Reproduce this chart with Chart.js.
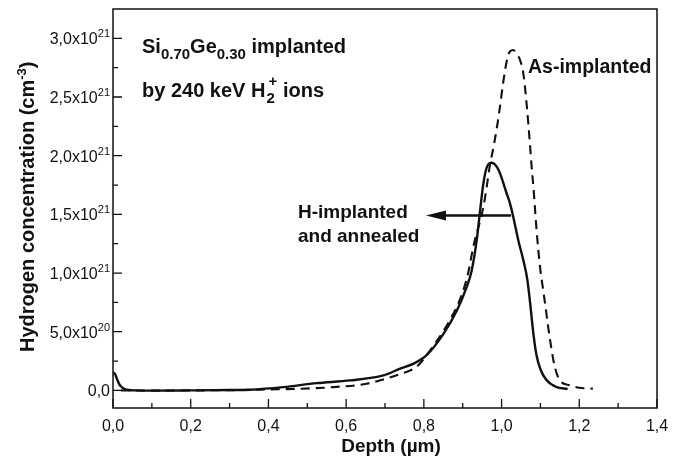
<!DOCTYPE html>
<html>
<head>
<meta charset="utf-8">
<script src="https://cdn.jsdelivr.net/npm/chart.js@4.4.1/dist/chart.umd.min.js"></script>
<style>
  html, body { margin: 0; padding: 0; background: #fff; }
  #wrap { width: 681px; height: 459px; position: relative; }
</style>
</head>
<body>
<div id="wrap"><canvas id="chart"></canvas></div>
<script>
// Profils d'hydrogène (concentration en unités de 1e21 cm^-3)
const annealedDepth = [0, 0.005, 0.01, 0.015, 0.02, 0.03, 0.04, 0.06, 0.1, 0.2, 0.3, 0.353, 0.438, 0.524, 0.61, 0.696, 0.739, 0.775, 0.807, 0.85, 0.885, 0.91, 0.923, 0.936, 0.944, 0.953, 0.962, 0.975, 0.992, 1.013, 1.022, 1.03, 1.043, 1.056, 1.066, 1.073, 1.082, 1.09, 1.1, 1.115, 1.14, 1.17];
const annealedConc = [0.155, 0.14, 0.1, 0.06, 0.035, 0.012, 0.003, 0, -0.002, 0, 0.003, 0.006, 0.028, 0.062, 0.085, 0.128, 0.185, 0.23, 0.3, 0.48, 0.68, 0.88, 1.02, 1.28, 1.51, 1.76, 1.9, 1.94, 1.88, 1.68, 1.59, 1.48, 1.28, 1.11, 0.95, 0.76, 0.48, 0.3, 0.18, 0.09, 0.03, 0.012];

const asImplDepth = [0.02, 0.1, 0.2, 0.3, 0.4, 0.481, 0.567, 0.653, 0.739, 0.781, 0.8, 0.867, 0.897, 0.914, 0.927, 0.953, 0.962, 0.97, 0.979, 0.987, 0.996, 1.004, 1.013, 1.022, 1.03, 1.04, 1.047, 1.056, 1.065, 1.073, 1.077, 1.082, 1.09, 1.099, 1.106, 1.112, 1.12, 1.129, 1.137, 1.15, 1.176, 1.2, 1.235];
const asImplConc = [0, -0.002, 0, 0.002, 0.008, 0.014, 0.028, 0.057, 0.14, 0.2, 0.27, 0.6, 0.81, 1.0, 1.22, 1.56, 1.74, 1.92, 2.07, 2.22, 2.42, 2.62, 2.8, 2.89, 2.9, 2.86, 2.82, 2.7, 2.42, 2.1, 1.92, 1.73, 1.37, 1.05, 0.88, 0.74, 0.54, 0.34, 0.2, 0.085, 0.043, 0.023, 0.015];

// Graduations
const xMajor = [0, 0.2, 0.4, 0.6, 0.8, 1.0, 1.2, 1.4];
const xMinor = [0.1, 0.3, 0.5, 0.7, 0.9, 1.1, 1.3];
const xTickLabels = ['0,0', '0,2', '0,4', '0,6', '0,8', '1,0', '1,2', '1,4'];
const yMajor = [0, 0.5, 1.0, 1.5, 2.0, 2.5, 3.0];
const yMinor = [0.25, 0.75, 1.25, 1.75, 2.25, 2.75];
const yTickLabels = ['0,0', '5,0x10', '1,0x10', '1,5x10', '2,0x10', '2,5x10', '3,0x10'];
const yTickExp = ['', '20', '21', '21', '21', '21', '21'];

const FONT = '"Liberation Sans", Arial, sans-serif';
const INK = '#111';

function toPoints(xs, ys) {
    return xs.map((x, i) => ({ x: x, y: ys[i] }));
}

// écrit une suite de morceaux (texte normal / indice / exposant)
function drawRich(ctx, parts, x, y, base) {
    parts.forEach(p => {
        const size = p.size || base || 19;
        ctx.font = 'bold ' + size + 'px ' + FONT;
        ctx.fillText(p.t, x, y + (p.dy || 0));
        x += ctx.measureText(p.t).width;
    });
    return x;
}

const framePlugin = {
    id: 'frame',
    afterDatasetsDraw(chart) {
        const { ctx, chartArea: a, scales: { x, y } } = chart;
        ctx.save();
        ctx.strokeStyle = INK;
        ctx.fillStyle = INK;

        // cadre
        ctx.lineWidth = 1.5;
        ctx.strokeRect(a.left, a.top, a.right - a.left, a.bottom - a.top);

        // graduations vers l'intérieur
        ctx.lineWidth = 1.3;
        ctx.beginPath();
        xMajor.forEach(v => { const px = x.getPixelForValue(v); ctx.moveTo(px, a.bottom); ctx.lineTo(px, a.bottom - 9); });
        xMinor.forEach(v => { const px = x.getPixelForValue(v); ctx.moveTo(px, a.bottom); ctx.lineTo(px, a.bottom - 5); });
        yMajor.forEach(v => { const py = y.getPixelForValue(v); ctx.moveTo(a.left, py); ctx.lineTo(a.left + 9, py); });
        yMinor.forEach(v => { const py = y.getPixelForValue(v); ctx.moveTo(a.left, py); ctx.lineTo(a.left + 5, py); });
        ctx.stroke();

        // étiquettes de l'axe x
        ctx.font = '16px ' + FONT;
        ctx.textAlign = 'center';
        ctx.textBaseline = 'alphabetic';
        xMajor.forEach((v, i) => ctx.fillText(xTickLabels[i], x.getPixelForValue(v), a.bottom + 23));

        // étiquettes de l'axe y avec exposant
        ctx.textAlign = 'right';
        yMajor.forEach((v, i) => {
            const py = y.getPixelForValue(v);
            let right = a.left - 3;
            if (yTickExp[i]) {
                ctx.font = '11px ' + FONT;
                ctx.fillText(yTickExp[i], right, py - 1);
                right -= ctx.measureText(yTickExp[i]).width;
            }
            ctx.font = '16px ' + FONT;
            ctx.fillText(yTickLabels[i], right, py + 6);
        });

        // titres des axes
        ctx.textAlign = 'center';
        ctx.font = 'bold 19px ' + FONT;
        ctx.fillText('Depth (\u00b5m)', 391, 452);

        ctx.save();
        ctx.translate(34, 352);
        ctx.rotate(-Math.PI / 2);
        ctx.textAlign = 'left';
        drawRich(ctx, [
            { t: 'Hydrogen concentration (cm' },
            { t: '-3', size: 13, dy: -8 },
            { t: ')' }
        ], 0, 0, 20);
        ctx.restore();

        // annotations
        ctx.textAlign = 'left';
        drawRich(ctx, [
            { t: 'Si' }, { t: '0.70', size: 15, dy: 6 },
            { t: 'Ge' }, { t: '0.30', size: 15, dy: 6 },
            { t: ' implanted' }
        ], 142, 53, 20);
        const hx = drawRich(ctx, [{ t: 'by 240 keV H' }], 142, 97, 20);
        ctx.font = 'bold 15px ' + FONT;
        ctx.fillText('2', hx + 1, 103);
        ctx.fillText('+', hx + 3, 86);
        drawRich(ctx, [{ t: ' ions' }], hx + 12, 97, 20);

        drawRich(ctx, [{ t: 'As-implanted' }], 528, 73, 19.5);
        drawRich(ctx, [{ t: 'H-implanted' }], 298, 218, 19);
        drawRich(ctx, [{ t: 'and annealed' }], 298, 242, 19);

        // flèche
        ctx.lineWidth = 2.5;
        ctx.beginPath();
        ctx.moveTo(511, 215.5);
        ctx.lineTo(440, 215.5);
        ctx.stroke();
        ctx.beginPath();
        ctx.moveTo(426, 215.5);
        ctx.lineTo(446, 210.5);
        ctx.lineTo(446, 220.5);
        ctx.closePath();
        ctx.fill();

        ctx.restore();
    }
};

const ctx = document.getElementById('chart').getContext('2d');
const chart = new Chart(ctx, {
    type: 'line',
    data: {
        datasets: [{
            label: 'H-implanted and annealed',
            data: toPoints(annealedDepth, annealedConc),
            borderColor: INK,
            borderWidth: 2.4,
            pointRadius: 0,
            cubicInterpolationMode: 'monotone'
        }, {
            label: 'As-implanted',
            data: toPoints(asImplDepth, asImplConc),
            borderColor: INK,
            borderWidth: 2.1,
            borderDash: [9, 6],
            pointRadius: 0,
            cubicInterpolationMode: 'monotone'
        }]
    },
    options: {
        responsive: true,
        maintainAspectRatio: false,
        animation: false,
        layout: { padding: { left: 113, right: 24, top: 9, bottom: 51 } },
        plugins: { legend: { display: false }, tooltip: { enabled: false } },
        scales: {
            x: { type: 'linear', min: 0, max: 1.4, display: false },
            y: { type: 'linear', min: -0.15, max: 3.25, display: false }
        }
    },
    plugins: [framePlugin]
});
</script>
</body>
</html>
